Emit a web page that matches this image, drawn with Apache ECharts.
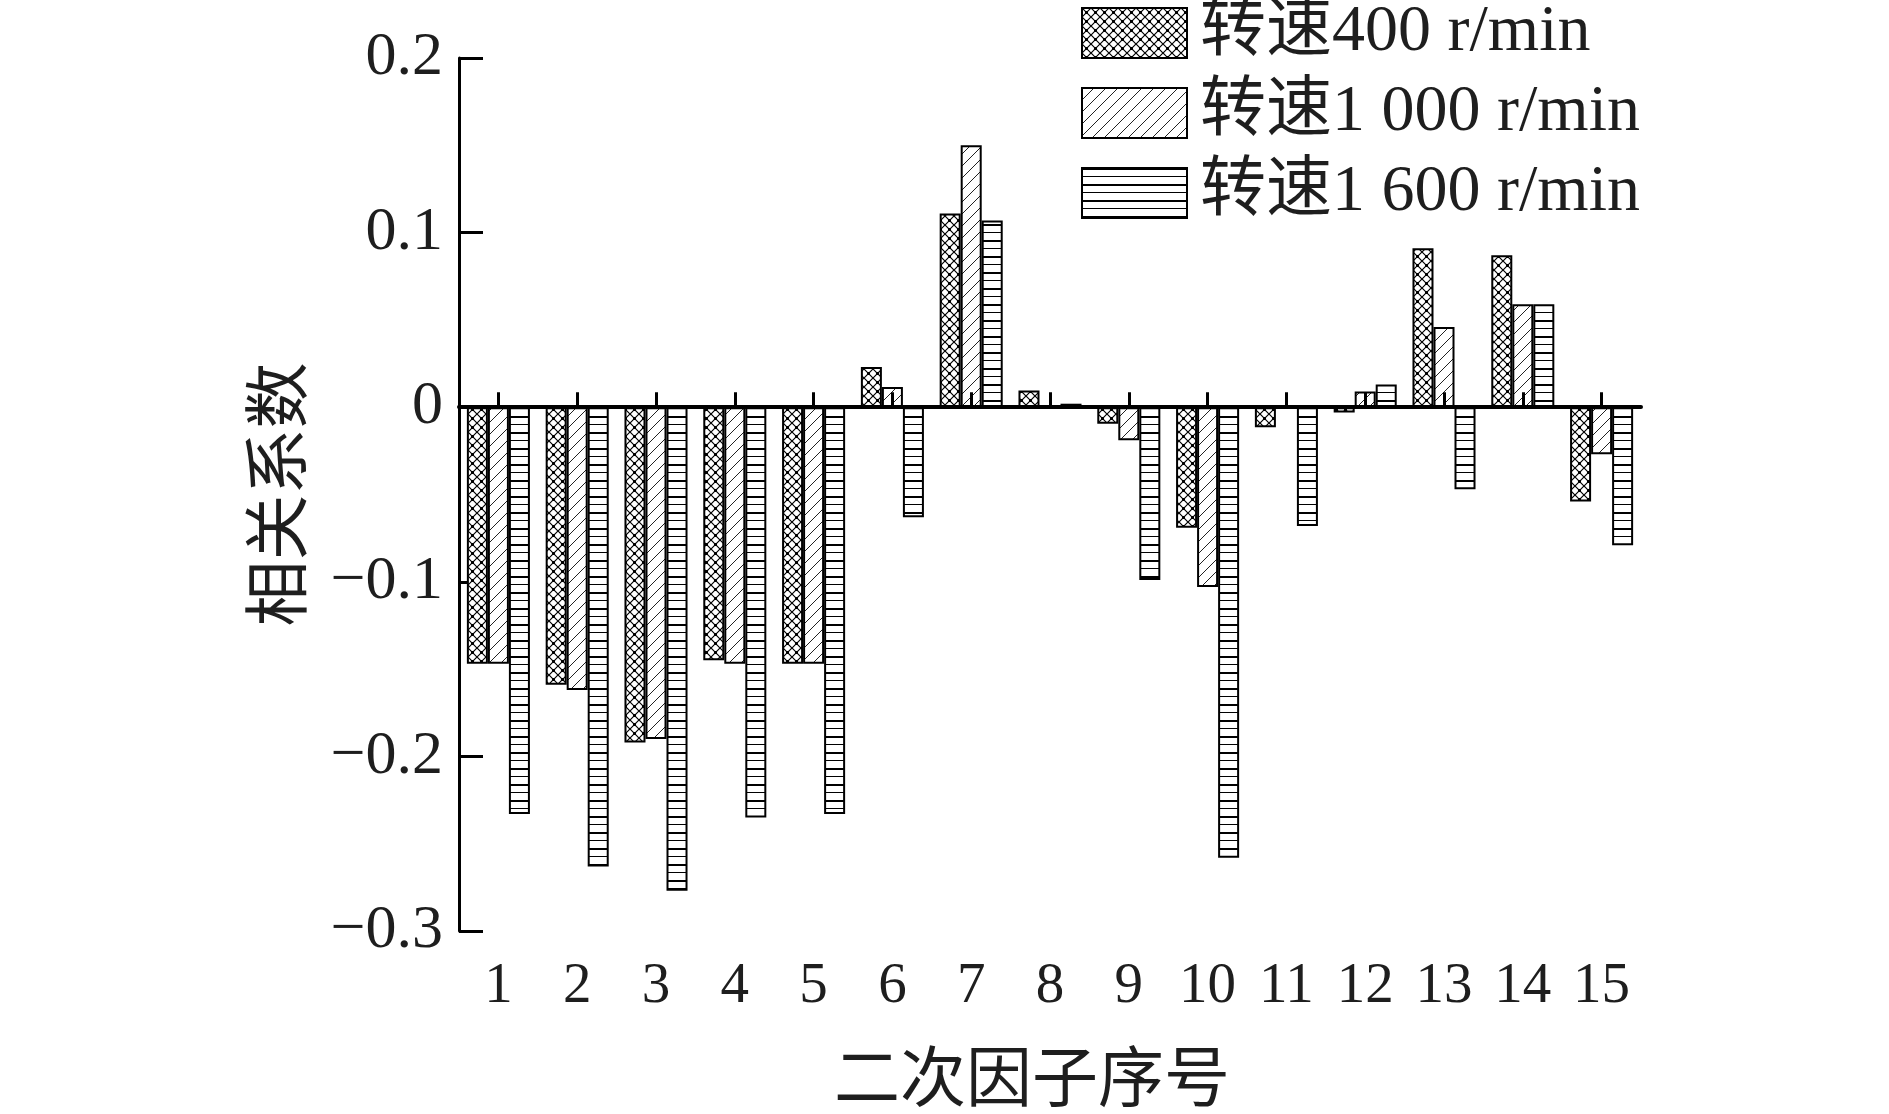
<!DOCTYPE html>
<html>
<head>
<meta charset="utf-8">
<script src="https://cdn.jsdelivr.net/npm/echarts@6/dist/echarts.min.js"></script>
<style>
html, body { margin: 0; padding: 0; background: #fff; }
#chart { width: 1889px; height: 1114px; }
</style>
</head>
<body>
<div id="chart"></div>
<script>
// 二次因子序号
const categories = ['1', '2', '3', '4', '5', '6', '7', '8', '9', '10', '11', '12', '13', '14', '15']
const seriesNames = ['转速400 r/min', '转速1 000 r/min', '转速1 600 r/min']
// 相关系数
const speed400 = [-0.147, -0.159, -0.192, -0.145, -0.147, 0.023, 0.111, 0.0095, -0.0095, -0.069, -0.0115, -0.003, 0.091, 0.087, -0.054]
const speed1000 = [-0.147, -0.162, -0.190, -0.147, -0.147, 0.0115, 0.150, 0, -0.019, -0.103, -0.001, 0.009, 0.046, 0.059, -0.027]
const speed1600 = [-0.233, -0.263, -0.277, -0.235, -0.233, -0.063, 0.107, 0.002, -0.099, -0.258, -0.068, 0.013, -0.047, 0.059, -0.079]
const yTicks = { min: -0.3, max: 0.2, step: 0.1 }

const latin = "'Liberation Serif', 'Times New Roman', 'Noto Sans CJK SC', serif"
const cjk = "'Noto Sans CJK SC', sans-serif"
const ink = '#1e1e1e'

function makeTile(w, h, draw) { // 填充纹理
    const c = document.createElement('canvas')
    c.width = w
    c.height = h
    const ctx = c.getContext('2d')
    ctx.fillStyle = '#fff'
    ctx.fillRect(0, 0, w, h)
    draw(ctx)
    return { image: c, repeat: 'repeat' }
}
const crossFill = makeTile(9, 9, ctx => {
    ctx.strokeStyle = '#000'
    ctx.lineWidth = 1.2
    ctx.beginPath()
    ctx.moveTo(0, 0); ctx.lineTo(9, 9)
    ctx.moveTo(9, 0); ctx.lineTo(0, 9)
    ctx.stroke()
    ctx.fillStyle = '#000'
    ctx.fillRect(3, 3, 3, 3)
})
const slashFill = makeTile(12, 12, ctx => {
    ctx.strokeStyle = '#222'
    ctx.lineWidth = 1
    ctx.beginPath()
    ctx.moveTo(-1, 13); ctx.lineTo(13, -1)
    ctx.stroke()
})
const lineFill = makeTile(8, 16, ctx => {
    ctx.fillStyle = '#000'
    ctx.fillRect(0, 0, 8, 2)
    ctx.fillRect(0, 8, 8, 1)
})

const fills = [crossFill, slashFill, lineFill]
const values = [speed400, speed1000, speed1600]

const chart = echarts.init(document.getElementById('chart'), null, { renderer: 'canvas' })
const option = {
    animation: false,
    backgroundColor: '#fff',
    grid: { left: 459, right: 248, top: 58, bottom: 173 },
    legend: {
        orient: 'vertical',
        left: 1076,
        top: -5,
        icon: 'rect',
        itemWidth: 105,
        itemHeight: 50,
        itemGap: 14,
        data: seriesNames,
        textStyle: { fontFamily: latin, fontSize: 66, lineHeight: 66, color: ink, padding: [0, 0, 0, 8] }
    },
    xAxis: [{
        type: 'category',
        data: categories,
        z: 3,
        axisLine: { onZero: true, lineStyle: { color: '#000', width: 4 } },
        axisTick: { show: true, inside: true, alignWithLabel: true, length: 15, lineStyle: { color: '#000', width: 3 } },
        axisLabel: { show: false },
        splitLine: { show: false }
    }, {
        type: 'category',
        data: categories,
        position: 'bottom',
        axisLine: { show: false, onZero: false },
        axisTick: { show: false },
        axisLabel: { fontFamily: latin, fontSize: 57, color: ink, margin: 28 },
        name: '二次因子序号',
        nameLocation: 'middle',
        nameGap: 112,
        nameTextStyle: { fontFamily: cjk, fontSize: 66, color: ink, padding: [0, 36, 0, 0] }
    }],
    yAxis: {
        type: 'value',
        min: yTicks.min,
        max: yTicks.max,
        interval: yTicks.step,
        axisLine: { show: true, onZero: false, lineStyle: { color: '#000', width: 3 } },
        axisTick: { show: true, inside: true, length: 24, lineStyle: { color: '#000', width: 3 } },
        splitLine: { show: false },
        axisLabel: {
            fontFamily: latin, fontSize: 62, color: ink, margin: 16,
            formatter: v => {
                const r = Math.round(v * 10) / 10
                if (r === 0) return '0'
                return r.toFixed(1).replace('-', '\u2212')
            }
        },
        name: '相关系数',
        nameLocation: 'middle',
        nameGap: 150,
        nameTextStyle: { fontFamily: cjk, fontSize: 66, color: ink }
    },
    series: values.map((data, i) => ({
        name: seriesNames[i],
        type: 'bar',
        xAxisIndex: 0,
        data: data,
        barGap: 0,
        barCategoryGap: '20%',
        itemStyle: { color: fills[i], borderColor: '#000', borderWidth: 2 }
    }))
}
chart.setOption(option)
</script>
</body>
</html>
